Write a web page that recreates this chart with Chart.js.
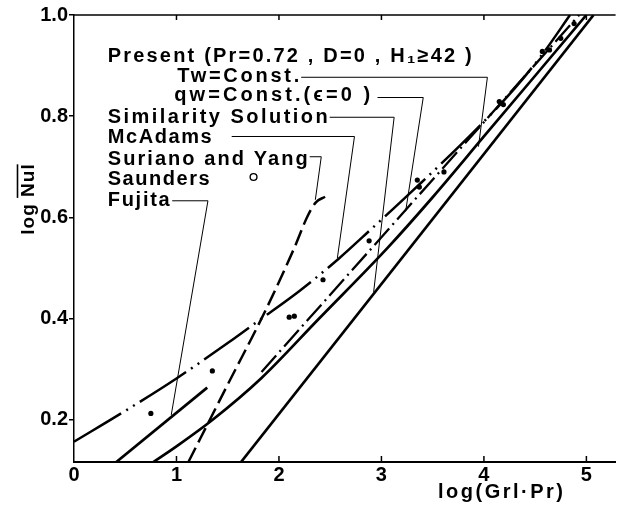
<!DOCTYPE html>
<html>
<head>
<meta charset="utf-8">
<script src="https://cdn.jsdelivr.net/npm/chart.js@4"></script>
<style>
  html, body { margin: 0; padding: 0; background: #fff; }
  canvas { display: block; }
</style>
</head>
<body>
<canvas id="nuChart" width="621" height="509"></canvas>
<script>
// log Nul against log(Grl.Pr)
const xTicks = [0, 1, 2, 3, 4, 5];
const yTicks = [0.2, 0.4, 0.6, 0.8, 1.0];

// Present, Tw = Const. (solid curve)
const twX = [0.774, 1.0, 1.35, 1.83, 2.38, 3.06, 3.5, 4.0, 4.5, 5.0];
const twY = [0.117, 0.148, 0.200, 0.283, 0.398, 0.540, 0.640, 0.760, 0.880, 1.0];
// Present, qw = Const. (eps = 0), dash-dot
const qwX = [1.83, 4.93];
const qwY = [0.295, 1.0];
// Similarity solution
const simX = [1.63, 5.07];
const simY = [0.117, 1.0];
// McAdams, dash-dot-dot
const mcX = [0, 0.5, 1.0, 1.5, 1.8, 2.2, 2.58, 2.9, 3.3, 3.93, 4.3, 4.58, 4.84];
const mcY = [0.157, 0.218, 0.282, 0.352, 0.396, 0.455, 0.518, 0.577, 0.652, 0.775, 0.855, 0.925, 1.0];
// Suriano and Yang, long dashes
const surX = [1.116, 1.5, 1.88, 2.15, 2.28, 2.36, 2.45];
const surY = [0.117, 0.270, 0.421, 0.540, 0.603, 0.630, 0.641];
// Fujita
const fujX = [0.413, 1.30];
const fujY = [0.117, 0.264];
// Saunders (points)
const sauX = [0.75, 1.35, 2.10, 2.15, 2.43, 2.88, 3.35, 3.37, 3.61, 4.15, 4.19, 4.57, 4.64, 4.75, 4.88];
const sauY = [0.213, 0.297, 0.403, 0.405, 0.477, 0.554, 0.674, 0.660, 0.690, 0.829, 0.823, 0.928, 0.931, 0.954, 0.983];
// Saunders key symbol next to its label
const sauKeyX = [1.752];
const sauKeyY = [0.680];
// specks on the print, left of / below the axes
const speckX = [-0.216, -0.555];
const speckY = [0.108, 0.048];

// leader lines from the labels to the curves
const twLeadX = [2.217, 4.034, 3.947], twLeadY = [0.877, 0.877, 0.740];
const qwLeadX = [2.962, 3.408, 3.236], qwLeadY = [0.837, 0.837, 0.612];
const simLeadX = [2.495, 3.124, 2.924], simLeadY = [0.798, 0.798, 0.453];
const mcLeadX = [1.539, 2.737, 2.570], mcLeadY = [0.760, 0.760, 0.520];
const surLeadX = [2.300, 2.413, 2.355], surLeadY = [0.720, 0.720, 0.635];
const fujLeadX = [0.958, 1.307, 0.949], fujLeadY = [0.633, 0.633, 0.210];

// label text, anchor (data units) and the width it spans on the print (px)
const labels = [
  { text: 'Present (Pr=0.72 , D=0 , H\u2081\u226542 )', x: 0.329, y: 0.907, w: 364 },
  { text: 'Tw=Const.', x: 1.007, y: 0.867, w: 122 },
  { text: 'qw=Const.(\u03f5=0 )', x: 0.978, y: 0.830, w: 196 },
  { text: 'Similarity Solution', x: 0.329, y: 0.787, w: 220 },
  { text: 'McAdams', x: 0.329, y: 0.747, w: 104 },
  { text: 'Suriano and Yang', x: 0.329, y: 0.703, w: 200 },
  { text: 'Saunders', x: 0.329, y: 0.665, w: 102 },
  { text: 'Fujita', x: 0.329, y: 0.622, w: 62 }
];

function pts(xs, ys) {
  return xs.map((v, i) => ({ x: v, y: ys[i] }));
}

function curve(xs, ys, width, dash, smooth) {
  return {
    data: pts(xs, ys), showLine: true, pointRadius: 0,
    borderColor: '#000', borderWidth: width, borderDash: dash,
    cubicInterpolationMode: smooth ? 'monotone' : 'default', tension: 0
  };
}

function leader(xs, ys) {
  return { data: pts(xs, ys), showLine: true, pointRadius: 0, borderColor: '#000', borderWidth: 1 };
}

// spread a string so that it covers a given width
function fitText(ctx, text, px, py, width) {
  ctx.letterSpacing = '0px';
  const n = [...text].length;
  const m = ctx.measureText(text).width;
  const ls = Math.max(0, (width - m) / (n - 1));
  ctx.letterSpacing = ls.toFixed(2) + 'px';
  ctx.fillText(text, px, py);
  ctx.letterSpacing = '0px';
}

const decorations = {
  id: 'decorations',
  afterDraw(chart) {
    const { ctx, chartArea: a, scales: { x, y } } = chart;
    ctx.save();
    ctx.strokeStyle = '#000';
    ctx.fillStyle = '#000';

    // top rule and inward tick marks
    ctx.lineWidth = 1.5;
    ctx.beginPath();
    ctx.moveTo(a.left, a.top);
    ctx.lineTo(a.right, a.top);
    ctx.stroke();
    xTicks.slice(1).forEach(v => {
      const px = x.getPixelForValue(v);
      ctx.beginPath();
      ctx.moveTo(px, a.bottom);
      ctx.lineTo(px, a.bottom - 6);
      ctx.moveTo(px, a.top);
      ctx.lineTo(px, a.top + 5);
      ctx.stroke();
    });

    // labels
    ctx.font = 'bold 20px "Liberation Sans"';
    ctx.textAlign = 'left';
    ctx.textBaseline = 'alphabetic';
    labels.forEach(l => fitText(ctx, l.text, x.getPixelForValue(l.x), y.getPixelForValue(l.y), l.w));

    // x axis title
    fitText(ctx, 'log(Grl\u00b7Pr)', 438, 498, 125);

    // y axis title, rotated, with the bar over Nul
    ctx.font = 'bold 19px "Liberation Sans"';
    ctx.translate(34, 199);
    ctx.rotate(-Math.PI / 2);
    const txt = 'log Nul';
    ctx.letterSpacing = '1px';
    const w = ctx.measureText(txt).width;
    const w0 = ctx.measureText('log ').width;
    ctx.fillText(txt, -w / 2, 0);
    ctx.lineWidth = 1.6;
    ctx.beginPath();
    ctx.moveTo(-w / 2 + w0 - 1, -16.5);
    ctx.lineTo(w / 2 - 1, -16.5);
    ctx.stroke();
    ctx.restore();
  }
};

const ctx = document.getElementById('nuChart').getContext('2d');
new Chart(ctx, {
  type: 'scatter',
  data: {
    datasets: [
      curve(twX, twY, 2.7, [], true),
      curve(qwX, qwY, 2.3, [22, 5, 2, 5], false),
      curve(simX, simY, 2.7, [], false),
      curve(mcX, mcY, 2.5, [55, 6, 2, 6, 2, 6], true),
      curve(surX, surY, 2.5, [16, 6], true),
      curve(fujX, fujY, 2.7, [], false),
      leader(twLeadX, twLeadY),
      leader(qwLeadX, qwLeadY),
      leader(simLeadX, simLeadY),
      leader(mcLeadX, mcLeadY),
      leader(surLeadX, surLeadY),
      leader(fujLeadX, fujLeadY),
      { data: pts(sauX, sauY), pointRadius: 2.6, backgroundColor: '#000', borderWidth: 0 },
      { data: pts(sauKeyX, sauKeyY), pointRadius: 3.4, backgroundColor: '#fff', borderColor: '#000', borderWidth: 1.4 },
      { data: pts(sauKeyX, sauKeyY), pointRadius: 1.5, backgroundColor: '#000', borderWidth: 0 },
      { data: pts(speckX, speckY), pointRadius: 2.2, backgroundColor: '#000', borderWidth: 0, clip: false }
    ]
  },
  options: {
    responsive: false,
    animation: false,
    devicePixelRatio: 1,
    layout: { padding: { left: 0, top: 15, right: 1, bottom: 0 } },
    plugins: { legend: { display: false }, tooltip: { enabled: false } },
    scales: {
      x: {
        type: 'linear', position: 'bottom', min: 0, max: 5.285,
        afterFit: s => { s.height = 47; },
        afterBuildTicks: s => { s.ticks = xTicks.map(v => ({ value: v })); },
        ticks: { color: '#000', font: { family: 'Liberation Sans', size: 20, weight: 'bold' }, padding: 1, callback: v => String(v) },
        grid: { display: false, drawTicks: false },
        border: { display: true, color: '#000', width: 2 }
      },
      y: {
        type: 'linear', min: 0.117, max: 1.0,
        afterFit: s => { s.width = 74; },
        afterBuildTicks: s => { s.ticks = yTicks.map(v => ({ value: v })); },
        ticks: { color: '#000', font: { family: 'Liberation Sans', size: 20, weight: 'bold' }, padding: 1, callback: v => v.toFixed(1) },
        grid: { display: true, drawOnChartArea: false, drawTicks: true, tickLength: 5, color: '#000', lineWidth: 1.5 },
        border: { display: true, color: '#000', width: 1.5 }
      }
    }
  },
  plugins: [decorations]
});
</script>
</body>
</html>
